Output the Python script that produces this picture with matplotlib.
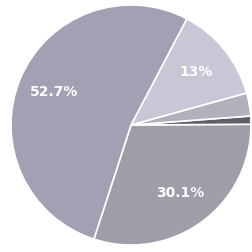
import matplotlib.pyplot as plt

# slices, counterclockwise starting from the lower boundary
SHARES = [30.1, 1.1, 3.1, 13.0, 52.7]
COLORS = ["#9e9da8", "#5f5f68", "#b2b0ba", "#cbc6d6", "#a49fb3"]
START_ANGLE = -108


def pct_label(p):
    return f"{p:.3g}%" if p > 5 else ""


fig = plt.figure(figsize=(2.53, 2.52), dpi=100)
ax = fig.add_axes([11 / 253, 7 / 252, 240 / 253, 240 / 252])
ax.pie(
    SHARES,
    colors=COLORS,
    startangle=START_ANGLE,
    counterclock=True,
    autopct=pct_label,
    pctdistance=0.7,
    wedgeprops={"edgecolor": "white", "linewidth": 1.2},
    textprops={"color": "white", "fontsize": 10, "fontweight": "bold"},
)
ax.set_xlim(-1, 1)
ax.set_ylim(-1, 1)
ax.set_aspect("auto")
ax.axis("off")
fig.savefig("out.png", dpi=100)
